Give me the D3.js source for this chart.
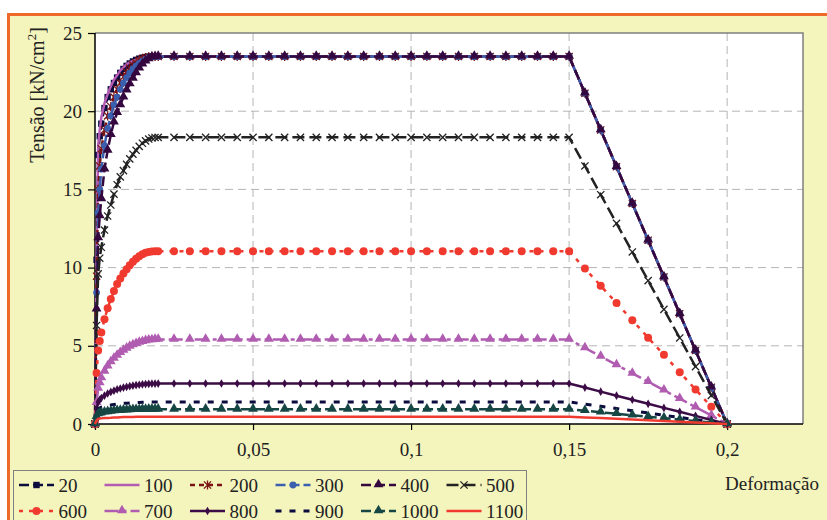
<!DOCTYPE html>
<html>
<head>
<meta charset="utf-8">
<script src="https://cdn.jsdelivr.net/npm/d3@7"></script>
<style>
  body { margin: 0; background: #fff; }
  svg { display: block; font-family: "Liberation Serif", "Times New Roman", serif; }
</style>
</head>
<body>
<div id="chart"></div>
<script>
// Width and height
var chart_width  = 827;
var chart_height = 520;

// strain points (shared by every series)
var strain = [0, 0.0005, 0.001, 0.0015, 0.002, 0.003, 0.004, 0.005, 0.006, 0.007, 0.008, 0.009, 0.01,
  0.011, 0.012, 0.013, 0.014, 0.015, 0.016, 0.017, 0.018, 0.019, 0.02,
  0.025, 0.03, 0.035, 0.04, 0.045, 0.05, 0.055, 0.06, 0.065, 0.07, 0.075, 0.08, 0.085,
  0.09, 0.095, 0.1, 0.105, 0.11, 0.115, 0.12, 0.125, 0.13, 0.135, 0.14, 0.145, 0.15,
  0.155, 0.16, 0.165, 0.17, 0.175, 0.18, 0.185, 0.19, 0.195, 0.2];

// stress values [kN/cm2] for each temperature
var s20 = [0, 10.5, 17.2, 18.4, 19.2, 20.2, 20.9, 21.4, 21.8, 22.15, 22.45, 22.7, 22.9,
  23.05, 23.18, 23.28, 23.36, 23.42, 23.46, 23.49, 23.5, 23.5, 23.5,
  23.5, 23.5, 23.5, 23.5, 23.5, 23.5, 23.5, 23.5, 23.5, 23.5, 23.5, 23.5, 23.5,
  23.5, 23.5, 23.5, 23.5, 23.5, 23.5, 23.5, 23.5, 23.5, 23.5, 23.5, 23.5, 23.5,
  21.15, 18.8, 16.45, 14.1, 11.75, 9.4, 7.05, 4.7, 2.35, 0];
var s100 = [0, 10.5, 17.8, 18.8, 19.6, 20.5, 21.1, 21.6, 22.0, 22.3, 22.6, 22.8, 23.0,
  23.12, 23.22, 23.3, 23.37, 23.42, 23.46, 23.48, 23.5, 23.5, 23.5,
  23.5, 23.5, 23.5, 23.5, 23.5, 23.5, 23.5, 23.5, 23.5, 23.5, 23.5, 23.5, 23.5,
  23.5, 23.5, 23.5, 23.5, 23.5, 23.5, 23.5, 23.5, 23.5, 23.5, 23.5, 23.5, 23.5,
  21.15, 18.8, 16.45, 14.1, 11.75, 9.4, 7.05, 4.7, 2.35, 0];
var s200 = [0, 9.45, 15.0, 16.5, 17.6, 18.8, 19.7, 20.3, 20.9, 21.4, 21.8, 22.2, 22.5,
  22.75, 22.95, 23.1, 23.25, 23.35, 23.43, 23.48, 23.5, 23.5, 23.5,
  23.5, 23.5, 23.5, 23.5, 23.5, 23.5, 23.5, 23.5, 23.5, 23.5, 23.5, 23.5, 23.5,
  23.5, 23.5, 23.5, 23.5, 23.5, 23.5, 23.5, 23.5, 23.5, 23.5, 23.5, 23.5, 23.5,
  21.15, 18.8, 16.45, 14.1, 11.75, 9.4, 7.05, 4.7, 2.35, 0];
var s300 = [0, 8.4, 13.5, 15.0, 16.3, 17.8, 18.9, 19.7, 20.4, 20.9, 21.4, 21.8, 22.15,
  22.45, 22.7, 22.9, 23.05, 23.2, 23.32, 23.42, 23.48, 23.5, 23.5,
  23.5, 23.5, 23.5, 23.5, 23.5, 23.5, 23.5, 23.5, 23.5, 23.5, 23.5, 23.5, 23.5,
  23.5, 23.5, 23.5, 23.5, 23.5, 23.5, 23.5, 23.5, 23.5, 23.5, 23.5, 23.5, 23.5,
  21.15, 18.8, 16.45, 14.1, 11.75, 9.4, 7.05, 4.7, 2.35, 0];
var s400 = [0, 7.35, 11.9, 13.3, 14.4, 16.3, 17.5, 18.5, 19.3, 19.9, 20.4, 20.9, 21.35,
  21.75, 22.1, 22.45, 22.75, 23.0, 23.2, 23.35, 23.45, 23.49, 23.5,
  23.5, 23.5, 23.5, 23.5, 23.5, 23.5, 23.5, 23.5, 23.5, 23.5, 23.5, 23.5, 23.5,
  23.5, 23.5, 23.5, 23.5, 23.5, 23.5, 23.5, 23.5, 23.5, 23.5, 23.5, 23.5, 23.5,
  21.15, 18.8, 16.45, 14.1, 11.75, 9.4, 7.05, 4.7, 2.35, 0];
var s500 = [0, 6.3, 9.6, 10.6, 11.3, 12.4, 13.3, 14.0, 14.7, 15.3, 15.8, 16.2, 16.6,
  16.95, 17.25, 17.5, 17.75, 17.95, 18.1, 18.22, 18.29, 18.32, 18.33,
  18.33, 18.33, 18.33, 18.33, 18.33, 18.33, 18.33, 18.33, 18.33, 18.33, 18.33, 18.33, 18.33,
  18.33, 18.33, 18.33, 18.33, 18.33, 18.33, 18.33, 18.33, 18.33, 18.33, 18.33, 18.33, 18.33,
  16.5, 14.66, 12.83, 11.0, 9.17, 7.33, 5.5, 3.67, 1.83, 0];
var s600 = [0, 3.26, 4.7, 5.3, 5.85, 6.7, 7.4, 8.0, 8.5, 8.95, 9.3, 9.62, 9.9,
  10.15, 10.37, 10.56, 10.72, 10.85, 10.95, 11.0, 11.03, 11.045, 11.045,
  11.05, 11.05, 11.05, 11.05, 11.05, 11.05, 11.05, 11.05, 11.05, 11.05, 11.05, 11.05, 11.05,
  11.05, 11.05, 11.05, 11.05, 11.05, 11.05, 11.05, 11.05, 11.05, 11.05, 11.05, 11.05, 11.05,
  9.94, 8.84, 7.73, 6.63, 5.52, 4.42, 3.31, 2.21, 1.10, 0];
var s700 = [0, 1.37, 2.27, 2.62, 2.94, 3.37, 3.70, 3.97, 4.20, 4.39, 4.56, 4.71, 4.84,
  4.96, 5.06, 5.14, 5.21, 5.27, 5.32, 5.36, 5.38, 5.40, 5.405,
  5.41, 5.41, 5.41, 5.41, 5.41, 5.41, 5.41, 5.41, 5.41, 5.41, 5.41, 5.41, 5.41,
  5.41, 5.41, 5.41, 5.41, 5.41, 5.41, 5.41, 5.41, 5.41, 5.41, 5.41, 5.41, 5.41,
  4.86, 4.32, 3.78, 3.24, 2.70, 2.16, 1.62, 1.08, 0.54, 0];
var s800 = [0, 0.95, 1.41, 1.55, 1.66, 1.82, 1.95, 2.05, 2.13, 2.21, 2.27, 2.33, 2.37,
  2.42, 2.45, 2.49, 2.51, 2.54, 2.55, 2.57, 2.58, 2.58, 2.585,
  2.59, 2.59, 2.59, 2.59, 2.59, 2.59, 2.59, 2.59, 2.59, 2.59, 2.59, 2.59, 2.59,
  2.59, 2.59, 2.59, 2.59, 2.59, 2.59, 2.59, 2.59, 2.59, 2.59, 2.59, 2.59, 2.59,
  2.33, 2.07, 1.81, 1.55, 1.29, 1.03, 0.78, 0.52, 0.26, 0];
var s900 = [0, 0.71, 0.98, 1.03, 1.07, 1.13, 1.18, 1.21, 1.24, 1.27, 1.29, 1.32, 1.33,
  1.35, 1.36, 1.37, 1.38, 1.39, 1.40, 1.40, 1.41, 1.41, 1.41,
  1.41, 1.41, 1.41, 1.41, 1.41, 1.41, 1.41, 1.41, 1.41, 1.41, 1.41, 1.41, 1.41,
  1.41, 1.41, 1.41, 1.41, 1.41, 1.41, 1.41, 1.41, 1.41, 1.41, 1.41, 1.41, 1.41,
  1.27, 1.13, 0.99, 0.85, 0.71, 0.56, 0.42, 0.28, 0.14, 0];
var s1000 = [0, 0.47, 0.65, 0.69, 0.71, 0.75, 0.78, 0.81, 0.83, 0.85, 0.86, 0.88, 0.89,
  0.90, 0.91, 0.92, 0.92, 0.93, 0.93, 0.94, 0.94, 0.94, 0.94,
  0.94, 0.94, 0.94, 0.94, 0.94, 0.94, 0.94, 0.94, 0.94, 0.94, 0.94, 0.94, 0.94,
  0.94, 0.94, 0.94, 0.94, 0.94, 0.94, 0.94, 0.94, 0.94, 0.94, 0.94, 0.94, 0.94,
  0.85, 0.75, 0.66, 0.56, 0.47, 0.38, 0.28, 0.19, 0.09, 0];
var s1100 = [0, 0.24, 0.33, 0.35, 0.36, 0.38, 0.39, 0.40, 0.42, 0.42, 0.43, 0.44, 0.44,
  0.45, 0.45, 0.46, 0.46, 0.46, 0.47, 0.47, 0.47, 0.47, 0.47,
  0.47, 0.47, 0.47, 0.47, 0.47, 0.47, 0.47, 0.47, 0.47, 0.47, 0.47, 0.47, 0.47,
  0.47, 0.47, 0.47, 0.47, 0.47, 0.47, 0.47, 0.47, 0.47, 0.47, 0.47, 0.47, 0.47,
  0.42, 0.38, 0.33, 0.28, 0.24, 0.19, 0.14, 0.09, 0.05, 0];

var seriesNames = ["20", "100", "200", "300", "400", "500", "600", "700", "800", "900", "1000", "1100"];
var seriesValues = [s20, s100, s200, s300, s400, s500, s600, s700, s800, s900, s1000, s1100];

var yTicks = [0, 5, 10, 15, 20, 25];
var xTicks = [0, 0.05, 0.1, 0.15, 0.2];

// look of each series (colour, dash, marker)
var styles = [
  {color: "#0b0b3e", dash: "10,4", width: 2.5, marker: "square"},
  {color: "#b45cb4", dash: null,   width: 2.5, marker: null},
  {color: "#7a1414", dash: "5,4",  width: 2.5, marker: "star"},
  {color: "#3a5fae", dash: "10,4", width: 2.5, marker: "circle"},
  {color: "#34083f", dash: "10,4", width: 2.5, marker: "triangle"},
  {color: "#222222", dash: "12,5", width: 2.5, marker: "x"},
  {color: "#f03a30", dash: "4,6",  width: 2.5, marker: "bigcircle"},
  {color: "#b05cb0", dash: "14,4,4,4", width: 2.5, marker: "triangle"},
  {color: "#3c0c46", dash: null,   width: 2.5, marker: "diamond"},
  {color: "#0b0b3e", dash: "6,8",  width: 3,   marker: null},
  {color: "#164744", dash: "10,4", width: 2.5, marker: "triangle"},
  {color: "#f03a30", dash: null,   width: 2.5, marker: null}
];

// plot area
var plotLeft = 95, plotRight = 803, plotTop = 33, plotBottom = 424;

var x = d3.scaleLinear().domain([0, 0.224]).range([plotLeft, plotRight]);
var y = d3.scaleLinear().domain([0, 25]).range([plotBottom, plotTop]);

var svg = d3.select("#chart")
  .append("svg")
  .attr("width", chart_width)
  .attr("height", chart_height);

// outer frame
svg.append("rect")
  .attr("x", 8.5).attr("y", 14.5)
  .attr("width", 840).attr("height", 540)
  .attr("fill", "#f4f4bd")
  .attr("stroke", "#ee6a2a")
  .attr("stroke-width", 3);

svg.append("rect")
  .attr("x", plotLeft).attr("y", plotTop)
  .attr("width", plotRight - plotLeft).attr("height", plotBottom - plotTop)
  .attr("fill", "#ffffff");

// grid
svg.append("g").selectAll("line")
  .data(yTicks.filter(function(d){ return d > 0 && d < 25; }))
  .enter().append("line")
  .attr("x1", plotLeft).attr("x2", plotRight)
  .attr("y1", function(d){ return y(d); }).attr("y2", function(d){ return y(d); })
  .attr("stroke", "#b4b4b4").attr("stroke-width", 1).attr("stroke-dasharray", "8,5");

svg.append("g").selectAll("line")
  .data(xTicks.filter(function(d){ return d > 0; }))
  .enter().append("line")
  .attr("y1", plotTop).attr("y2", plotBottom)
  .attr("x1", function(d){ return x(d); }).attr("x2", function(d){ return x(d); })
  .attr("stroke", "#b4b4b4").attr("stroke-width", 1).attr("stroke-dasharray", "8,5");

// plot border top / right
svg.append("path")
  .attr("d", "M" + plotLeft + "," + plotTop + "H" + plotRight + "V" + plotBottom)
  .attr("fill", "none").attr("stroke", "#7f7f7f").attr("stroke-width", 1.5);

// axes
var yAxis = svg.append("g")
  .attr("transform", "translate(" + plotLeft + ",0)")
  .call(d3.axisLeft(y).tickValues(yTicks).tickSize(7).tickPadding(6).tickFormat(d3.format("d")));

var xAxis = svg.append("g")
  .attr("transform", "translate(0," + plotBottom + ")")
  .call(d3.axisBottom(x).tickValues(xTicks).tickSize(6).tickPadding(13)
    .tickFormat(function(d){ return d === 0 ? "0" : String(d).replace(".", ","); }));

[yAxis, xAxis].forEach(function(g){
  g.select(".domain").attr("stroke", "#000").attr("stroke-width", 1.5);
  g.selectAll(".tick line").attr("stroke", "#000").attr("stroke-width", 1.2);
  g.selectAll("text")
    .attr("font-family", "Liberation Serif, serif")
    .attr("font-size", 19)
    .attr("fill", "#222");
});
xAxis.select(".domain").attr("d", "M" + plotLeft + ",0H" + plotRight);
yAxis.select(".domain").attr("d", "M0," + plotTop + "V" + plotBottom);

// markers
function drawMarker(g, type, color, cx, cy) {
  if (type === "square") {
    g.append("rect").attr("x", cx - 3.2).attr("y", cy - 3.2).attr("width", 6.4).attr("height", 6.4)
      .attr("fill", color);
  } else if (type === "circle") {
    g.append("circle").attr("cx", cx).attr("cy", cy).attr("r", 3.4).attr("fill", color);
  } else if (type === "bigcircle") {
    g.append("circle").attr("cx", cx).attr("cy", cy).attr("r", 4).attr("fill", color);
  } else if (type === "triangle") {
    g.append("path").attr("d", d3.symbol().type(d3.symbolTriangle).size(42)())
      .attr("transform", "translate(" + cx + "," + (cy - 0.5) + ")").attr("fill", color);
  } else if (type === "diamond") {
    g.append("path").attr("d", d3.symbol().type(d3.symbolDiamond).size(22)())
      .attr("transform", "translate(" + cx + "," + cy + ")").attr("fill", color);
  } else if (type === "x" || type === "star") {
    var r = 3.6;
    var p = "M" + (cx - r) + "," + (cy - r) + "L" + (cx + r) + "," + (cy + r) +
            "M" + (cx - r) + "," + (cy + r) + "L" + (cx + r) + "," + (cy - r);
    if (type === "star") p += "M" + cx + "," + (cy - r - 1) + "L" + cx + "," + (cy + r + 1);
    g.append("path").attr("d", p).attr("stroke", color).attr("stroke-width", 1.3).attr("fill", "none");
  }
}

var line = d3.line()
  .x(function(d){ return x(d[0]); })
  .y(function(d){ return y(d[1]); });

seriesValues.forEach(function(vals, i){
  var st = styles[i];
  var pts = strain.map(function(e, j){ return [e, vals[j]]; });
  var g = svg.append("g");
  g.append("path")
    .attr("d", line(pts))
    .attr("fill", "none")
    .attr("stroke", st.color)
    .attr("stroke-width", st.width)
    .attr("stroke-dasharray", st.dash);
  if (st.marker) {
    pts.forEach(function(p){ drawMarker(g, st.marker, st.color, x(p[0]), y(p[1])); });
  }
});

// axis titles
var yTitle = svg.append("text")
  .attr("transform", "translate(44,95) rotate(-90)")
  .attr("text-anchor", "middle")
  .attr("font-size", 20)
  .attr("fill", "#222");
yTitle.append("tspan").text("Tensão [kN/cm");
yTitle.append("tspan").attr("dy", -8).attr("font-size", 13).text("2");
yTitle.append("tspan").attr("dy", 8).text("]");

svg.append("text")
  .attr("x", 725).attr("y", 490)
  .attr("font-size", 19)
  .attr("fill", "#222")
  .text("Deformação");

// legend
svg.append("rect")
  .attr("x", 13.5).attr("y", 470.5)
  .attr("width", 513).attr("height", 70)
  .attr("fill", "#f4f4bd")
  .attr("stroke", "#808080").attr("stroke-width", 1);

var colX = [19, 104.5, 190, 275.5, 361, 446.5];
var rowY = [485, 511];

seriesNames.forEach(function(name, i){
  var st = styles[i];
  var lx = colX[i % 6], ly = rowY[Math.floor(i / 6)];
  var g = svg.append("g");
  g.append("line")
    .attr("x1", lx).attr("x2", lx + 35)
    .attr("y1", ly).attr("y2", ly)
    .attr("stroke", st.color).attr("stroke-width", st.width)
    .attr("stroke-dasharray", st.dash);
  if (st.marker) drawMarker(g, st.marker, st.color, lx + 17.5, ly);
  g.append("text")
    .attr("x", lx + 39.5).attr("y", ly + 6.5)
    .attr("font-size", 19)
    .attr("fill", "#222")
    .text(name);
});
</script>
</body>
</html>
